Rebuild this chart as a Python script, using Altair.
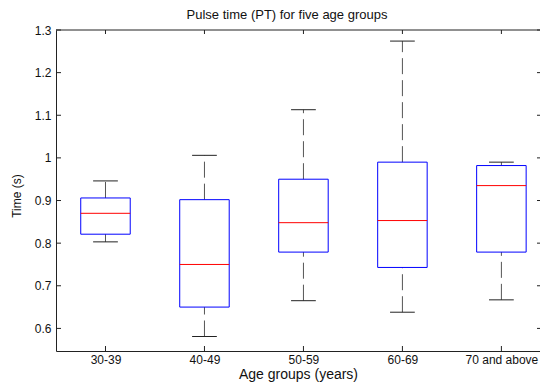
import altair as alt
import pandas as pd

groups = ["30-39", "40-49", "50-59", "60-69", "70 and above"]
lower_whisker = [0.803, 0.581, 0.665, 0.638, 0.667]
q1 = [0.821, 0.650, 0.779, 0.743, 0.779]
median = [0.870, 0.750, 0.848, 0.853, 0.935]
q3 = [0.906, 0.902, 0.950, 0.990, 0.982]
upper_whisker = [0.946, 1.006, 1.113, 1.274, 0.990]
y_ticks = [0.6, 0.7, 0.8, 0.9, 1.0, 1.1, 1.2, 1.3]

title = "Pulse time (PT) for five age groups"
x_title = "Age groups (years)"
y_title = "Time (s)"

W, H = 484, 321
BOX_HALF = 0.25
CAP_HALF = 0.125
FONT = "Liberation Sans"
INK = "#111"

df = pd.DataFrame({
    "idx": list(range(1, len(groups) + 1)),
    "group": groups,
    "lo": lower_whisker,
    "q1": q1,
    "med": median,
    "q3": q3,
    "hi": upper_whisker,
})
df["bl"] = df["idx"] - BOX_HALF
df["br"] = df["idx"] + BOX_HALF
df["cl"] = df["idx"] - CAP_HALF
df["cr"] = df["idx"] + CAP_HALF

label_expr = "[" + ",".join("'" + g + "'" for g in groups) + "][datum.value - 1]"

# right edge of the reference plot is cut off by the image border
xscale = alt.Scale(domain=[0.5, 5.39], nice=False, zero=False)
yscale = alt.Scale(domain=[0.547, 1.3], nice=False, zero=False)

xaxis = alt.Axis(values=list(range(1, len(groups) + 1)), labelExpr=label_expr,
                 title=x_title, ticks=False, domain=True, domainColor="#222",
                 grid=False, labelFont=FONT, labelFontSize=12, labelColor=INK,
                 labelPadding=3, titleFont=FONT, titleFontSize=14,
                 titleFontWeight="normal", titleColor=INK, titlePadding=2,
                 labelFlush=False)
yaxis = alt.Axis(values=y_ticks, title=y_title, ticks=False, domain=True,
                 domainColor="#222", grid=False, format="~g", labelFont=FONT,
                 labelFontSize=12, labelColor=INK, labelPadding=5,
                 titleFont=FONT, titleFontSize=12, titleFontWeight="normal",
                 titleColor=INK, titleX=-40, titleY=H / 2 + 5,
                 titleBaseline="middle", labelFlush=False)

base = alt.Chart(df)

upper = base.mark_rule(color="#555", strokeWidth=1, strokeDash=[16, 6]).encode(
    x=alt.X("idx:Q", scale=xscale, axis=xaxis),
    y=alt.Y("q3:Q", scale=yscale, axis=yaxis),
    y2="hi:Q",
)
lower = base.mark_rule(color="#555", strokeWidth=1, strokeDash=[16, 6]).encode(
    x="idx:Q", y="lo:Q", y2="q1:Q")
cap_hi = base.mark_rule(color="#222", strokeWidth=1).encode(
    x="cl:Q", x2="cr:Q", y="hi:Q")
cap_lo = base.mark_rule(color="#222", strokeWidth=1).encode(
    x="cl:Q", x2="cr:Q", y="lo:Q")
box = base.mark_rect(fill="white", fillOpacity=0, stroke="#0000ff",
                     strokeWidth=1).encode(
    x="bl:Q", x2="br:Q", y="q1:Q", y2="q3:Q")
med = base.mark_rule(color="#ff0000", strokeWidth=1).encode(
    x="bl:Q", x2="br:Q", y="med:Q")

ytdf = pd.DataFrame({"v": y_ticks})
ytick_l = alt.Chart(ytdf).mark_rule(color="#222").encode(
    y="v:Q", x=alt.value(0), x2=alt.value(5))
ytick_r = alt.Chart(ytdf).mark_rule(color="#222").encode(
    y="v:Q", x=alt.value(W - 3), x2=alt.value(W))
xtdf = pd.DataFrame({"v": list(range(1, len(groups) + 1))})
xtick_b = alt.Chart(xtdf).mark_rule(color="#222").encode(
    x="v:Q", y=alt.value(H), y2=alt.value(H - 5))
xtick_t = alt.Chart(xtdf).mark_rule(color="#222").encode(
    x="v:Q", y=alt.value(0), y2=alt.value(4))
top_line = alt.Chart(pd.DataFrame({"k": [0]})).mark_rule(color="#222").encode(
    y=alt.value(0), x=alt.value(0), x2=alt.value(W))

chart = alt.layer(upper, lower, cap_hi, cap_lo, box, med,
                  ytick_l, ytick_r, xtick_b, xtick_t, top_line).properties(
    width=W, height=H,
    title=alt.TitleParams(title, font=FONT, fontSize=13, fontWeight="normal",
                          color=INK, offset=2, anchor="middle", dx=-11),
    padding={"left": 48, "top": 22, "right": 0, "bottom": 33},
    autosize=alt.AutoSizeParams(type="none"),
    background="white",
).configure_view(stroke="transparent")

chart.save("out.html", embed_options={"renderer": "svg", "actions": False})
